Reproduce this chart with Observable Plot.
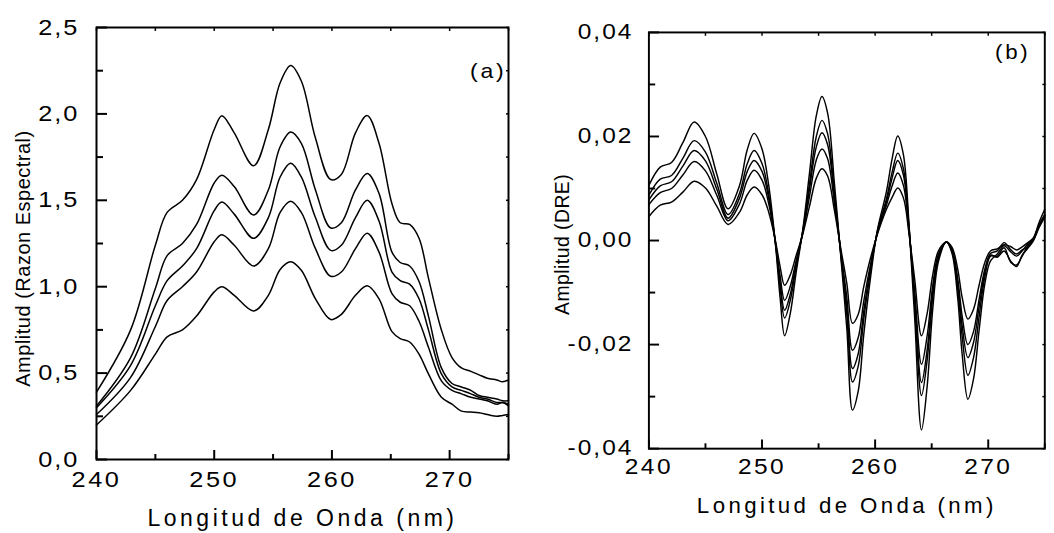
<!DOCTYPE html>
<html><head><meta charset="utf-8">
<script src="https://cdn.jsdelivr.net/npm/d3@7"></script>
<script src="https://cdn.jsdelivr.net/npm/@observablehq/plot@0.6"></script>
<style>
html,body{margin:0;padding:0;background:#fff;overflow:hidden;}
#wrap{position:relative;width:1054px;height:533px;overflow:hidden;background:#fff;}
#left{position:absolute;left:0;top:0;}
#right{position:absolute;left:540px;top:0;}
</style>
</head><body><div id="wrap"><div id="left"></div><div id="right"></div></div>
<script>
// ---------- Panel (a): Amplitud (Razon Espectral) ----------
const leftX = [240, 242.9, 245, 246, 247.3, 248.5, 250, 250.65, 251.7, 253.35, 254.6, 255.6, 256.5, 257.4, 258.6, 259.9, 260.8, 262, 263, 264, 265.1, 265.8, 266.6, 267.4, 268.2, 269.3, 270.2, 271, 271.8, 272.5, 273.2, 274, 274.5, 275];
const leftS1 = [0.39, 0.75, 1.24, 1.43, 1.50, 1.62, 1.91, 1.99, 1.89, 1.70, 1.91, 2.18, 2.28, 2.19, 1.86, 1.62, 1.65, 1.89, 1.99, 1.83, 1.48, 1.37, 1.36, 1.28, 1.05, 0.75, 0.59, 0.53, 0.51, 0.49, 0.47, 0.46, 0.45, 0.46];
const leftS2 = [0.31, 0.59, 0.99, 1.18, 1.25, 1.36, 1.60, 1.645, 1.58, 1.415, 1.56, 1.81, 1.895, 1.83, 1.56, 1.34, 1.37, 1.56, 1.655, 1.54, 1.20, 1.14, 1.12, 1.03, 0.83, 0.53, 0.44, 0.42, 0.40, 0.37, 0.36, 0.35, 0.34, 0.34];
const leftS3 = [0.30, 0.545, 0.89, 1.035, 1.12, 1.22, 1.44, 1.49, 1.42, 1.28, 1.40, 1.635, 1.715, 1.635, 1.40, 1.21, 1.24, 1.40, 1.50, 1.38, 1.085, 1.035, 1.015, 0.93, 0.75, 0.495, 0.42, 0.40, 0.38, 0.36, 0.35, 0.33, 0.33, 0.32];
const leftS4 = [0.26, 0.475, 0.77, 0.92, 1.00, 1.085, 1.26, 1.30, 1.24, 1.12, 1.22, 1.43, 1.495, 1.43, 1.22, 1.06, 1.085, 1.22, 1.31, 1.20, 0.96, 0.91, 0.89, 0.80, 0.65, 0.455, 0.40, 0.38, 0.36, 0.35, 0.34, 0.32, 0.33, 0.31];
const leftS5 = [0.20, 0.40, 0.61, 0.71, 0.75, 0.83, 0.97, 1.00, 0.95, 0.86, 0.95, 1.10, 1.145, 1.095, 0.93, 0.81, 0.84, 0.95, 1.005, 0.93, 0.74, 0.70, 0.68, 0.61, 0.495, 0.36, 0.32, 0.28, 0.275, 0.27, 0.26, 0.25, 0.255, 0.26];

// ---------- Panel (b): Amplitud (DRE) ----------
const rightX = [240, 241, 242, 243, 244, 245, 246, 247, 248, 248.7, 249.3, 250, 250.6, 251.2, 251.6, 252, 252.5, 253, 253.6, 254.2, 254.8, 255.3, 255.8, 256.4, 257, 257.5, 258, 258.5, 259, 259.6, 260.2, 261, 261.5, 262, 262.5, 263, 263.5, 264.1, 264.6, 265.1, 265.6, 266.3, 266.8, 267.3, 267.7, 268.2, 268.7, 269.2, 269.7, 270.2, 270.8, 271.4, 272, 272.5, 273, 273.5, 274, 274.5, 275];
const rightS1 = [0.0106, 0.0141, 0.0150, 0.0188, 0.0228, 0.0200, 0.0128, 0.0061, 0.0105, 0.0175, 0.0206, 0.0176, 0.0105, -0.0010, -0.0110, -0.0183, -0.0140, -0.0064, 0.0020, 0.0130, 0.0240, 0.0277, 0.0245, 0.0110, -0.0040, -0.0170, -0.0326, -0.0290, -0.0180, -0.0070, 0.0020, 0.0094, 0.0157, 0.0201, 0.0165, 0.0030, -0.0150, -0.0364, -0.0280, -0.0130, -0.0040, -0.0003, -0.0025, -0.0110, -0.0220, -0.0305, -0.0266, -0.0171, -0.0083, -0.0039, -0.0026, -0.0010, -0.0022, -0.0030, -0.0020, -0.0006, 0.0005, 0.0035, 0.0060];
const rightS2 = [0.0087, 0.0118, 0.0125, 0.0158, 0.0192, 0.0170, 0.0110, 0.0050, 0.0090, 0.0148, 0.0173, 0.0148, 0.0088, -0.0008, -0.0090, -0.0149, -0.0115, -0.0052, 0.0018, 0.0110, 0.0200, 0.0231, 0.0205, 0.0092, -0.0034, -0.0142, -0.0272, -0.0242, -0.0150, -0.0058, 0.0018, 0.0080, 0.0131, 0.0168, 0.0138, 0.0025, -0.0124, -0.0298, -0.0230, -0.0107, -0.0033, -0.0003, -0.0021, -0.0092, -0.0185, -0.0259, -0.0225, -0.0145, -0.0070, -0.0030, -0.0030, -0.0014, -0.0042, -0.0047, -0.0030, -0.0010, 0.0003, 0.0030, 0.0050];
const rightS3 = [0.0078, 0.0105, 0.0113, 0.0143, 0.0173, 0.0153, 0.0099, 0.0043, 0.0081, 0.0133, 0.0154, 0.0133, 0.0080, -0.0006, -0.0080, -0.0134, -0.0103, -0.0046, 0.0016, 0.0099, 0.0180, 0.0207, 0.0184, 0.0083, -0.0030, -0.0128, -0.0246, -0.0218, -0.0135, -0.0052, 0.0016, 0.0074, 0.0120, 0.0154, 0.0126, 0.0022, -0.0113, -0.0273, -0.0210, -0.0098, -0.0030, -0.0003, -0.0019, -0.0083, -0.0165, -0.0225, -0.0196, -0.0126, -0.0062, -0.0028, -0.0032, -0.0020, -0.0040, -0.0050, -0.0028, -0.0015, 0.0000, 0.0025, 0.0045];
const rightS4 = [0.0069, 0.0092, 0.0100, 0.0126, 0.0152, 0.0134, 0.0087, 0.0038, 0.0070, 0.0116, 0.0135, 0.0116, 0.0070, -0.0005, -0.0068, -0.0115, -0.0088, -0.0040, 0.0014, 0.0085, 0.0155, 0.0176, 0.0157, 0.0072, -0.0027, -0.0110, -0.0211, -0.0187, -0.0116, -0.0045, 0.0014, 0.0068, 0.0105, 0.0130, 0.0106, 0.0018, -0.0098, -0.0238, -0.0183, -0.0085, -0.0026, -0.0003, -0.0017, -0.0073, -0.0146, -0.0200, -0.0175, -0.0112, -0.0055, -0.0025, -0.0020, -0.0004, -0.0018, -0.0026, -0.0018, -0.0012, 0.0002, 0.0028, 0.0048];
const rightS5 = [0.0046, 0.0068, 0.0074, 0.0093, 0.0114, 0.0101, 0.0066, 0.0031, 0.0054, 0.0088, 0.0103, 0.0088, 0.0054, -0.0002, -0.0050, -0.0086, -0.0066, -0.0030, 0.0012, 0.0066, 0.0120, 0.0138, 0.0124, 0.0058, -0.0020, -0.0083, -0.0159, -0.0142, -0.0088, -0.0033, 0.0012, 0.0060, 0.0083, 0.0101, 0.0082, 0.0012, -0.0075, -0.0183, -0.0140, -0.0065, -0.0020, -0.0003, -0.0013, -0.0055, -0.0110, -0.0151, -0.0132, -0.0085, -0.0042, -0.0020, -0.0016, -0.0008, -0.0012, -0.0018, -0.0012, -0.0004, 0.0005, 0.0030, 0.0050];

// ---------- ticks and labels ----------
const xMajor = [240, 250, 260, 270];
const xMajorLabels = ["240", "250", "260", "270"];
const xMinor = [245, 255, 265, 275];
const yMajorA = [0, 0.5, 1, 1.5, 2, 2.5];
const yMajorALabels = ["0,0", "0,5", "1,0", "1,5", "2,0", "2,5"];
const yMinorA = [0.25, 0.75, 1.25, 1.75, 2.25];
const yMajorB = [-0.04, -0.02, 0, 0.02, 0.04];
const yMajorBLabels = ["-0,04", "-0,02", "0,00", "0,02", "0,04"];
const yMinorB = [-0.03, -0.01, 0.01, 0.03];

const xTitle = "Longitud de Onda (nm)";
const yTitleA = "Amplitud (Razon Espectral)";
const yTitleB = "Amplitud (DRE)";

function tidy(xs, series) {
  return series.flatMap((ys, s) => xs.map((x, i) => ({x, y: ys[i], s})));
}
const leftData = tidy(leftX, [leftS1, leftS2, leftS3, leftS4, leftS5]);
const rightData = tidy(rightX, [rightS1, rightS2, rightS3, rightS4, rightS5]);

const style = {fontFamily: "'Liberation Sans', Arial, sans-serif", fontSize: "20px", color: "#000", background: "#fff", overflow: "visible"};
const lab = (vals, labels) => d => labels[vals.indexOf(d)];

function panel({data, yDomain, yMajor, yLabels, yMinor, width, marginLeft, marginRight, marginTop, marginBottom, xPad, yPad, yTitle, yTitleDx, yTitleDy, tag, tagDx, tagDy, xTitleDy}) {
  return Plot.plot({
    width, height: 533, marginLeft, marginRight, marginTop, marginBottom,
    x: {domain: [240, 275]},
    y: {domain: yDomain},
    style,
    marks: [
      Plot.line(data, {x: "x", y: "y", z: "s", stroke: "#000", strokeWidth: 1.5, curve: "catmull-rom"}),
      Plot.frame({stroke: "#000", strokeWidth: 2}),
      // inward ticks
      Plot.axisX({ticks: xMajor, anchor: "bottom", tickSize: -9, strokeWidth: 2, fill: "none", label: null}),
      Plot.axisX({ticks: xMinor, anchor: "bottom", tickSize: -5, strokeWidth: 2, fill: "none", label: null}),
      Plot.axisX({ticks: xMajor.concat(xMinor), anchor: "top", tickSize: -3, strokeWidth: 1.5, fill: "none", label: null}),
      Plot.axisY({ticks: yMajor, anchor: "left", tickSize: -11, strokeWidth: 2, fill: "none", label: null}),
      Plot.axisY({ticks: yMinor, anchor: "left", tickSize: -7, strokeWidth: 2, fill: "none", label: null}),
      Plot.axisY({ticks: yMajor.concat(yMinor), anchor: "right", tickSize: -3, strokeWidth: 1.5, fill: "none", label: null}),
      // tick labels
      Plot.axisX({ticks: xMajor, anchor: "bottom", tickSize: 0, tickPadding: xPad, tickFormat: lab(xMajor, xMajorLabels), fontSize: 22, label: null}),
      Plot.axisY({ticks: yMajor, anchor: "left", tickSize: 0, tickPadding: yPad, tickFormat: lab(yMajor, yLabels), fontSize: 22, label: null}),
      // titles
      Plot.text([xTitle], {text: d => d, frameAnchor: "bottom", dy: xTitleDy, textAnchor: "middle", lineAnchor: "middle", fontSize: 23}),
      Plot.text([yTitle], {text: d => d, frameAnchor: "left", rotate: -90, dx: yTitleDx, dy: yTitleDy, textAnchor: "middle", lineAnchor: "middle", fontSize: 20}),
      Plot.text([tag], {text: d => d, frameAnchor: "top-right", dx: tagDx, dy: tagDy, textAnchor: "end", lineAnchor: "middle", fontSize: 20})
    ]
  });
}

// the original lettering is a wide face: stretch tick labels and tags horizontally
function widen(t, k) {
  const tr = t.getAttribute("transform");
  if (tr) t.setAttribute("transform", tr + ` scale(${k},1)`);
  else {
    const x = +t.getAttribute("x") || 0, y = +t.getAttribute("y") || 0;
    t.removeAttribute("x"); t.removeAttribute("y");
    t.setAttribute("transform", `translate(${x},${y}) scale(${k},1)`);
  }
}
function spacing(svg) {
  svg.querySelectorAll("text").forEach(t => {
    const s = t.textContent;
    if (t.closest('g[aria-label="x-axis tick label"]')) { t.style.letterSpacing = "2.2px"; widen(t, 1.15); }
    else if (t.closest('g[aria-label="y-axis tick label"]')) { t.style.letterSpacing = "1.8px"; widen(t, 1.15); }
    else if (s.startsWith("Longitud")) { t.style.letterSpacing = "3.5px"; }
    else if (s.startsWith("Amplitud")) { t.style.letterSpacing = "0.5px"; }
    else if (s.startsWith("(")) { t.style.letterSpacing = "2.4px"; widen(t, 1.15); }
  });
}

const left = panel({
  data: leftData, yDomain: [0, 2.5], yMajor: yMajorA, yLabels: yMajorALabels, yMinor: yMinorA,
  width: 520, marginLeft: 96, marginRight: 12, marginTop: 27, marginBottom: 74, xPad: 12, yPad: 17,
  yTitle: yTitleA, yTitleDx: -73, yTitleDy: 15, tag: "(a)", tagDx: -2, tagDy: 44.5, xTitleDy: 59.5
});
const right = panel({
  data: rightData, yDomain: [-0.04, 0.04], yMajor: yMajorB, yLabels: yMajorBLabels, yMinor: yMinorB,
  width: 531, marginLeft: 112, marginRight: 10, marginTop: 33, marginBottom: 70, xPad: 11, yPad: 16,
  yTitle: yTitleB, yTitleDx: -89, yTitleDy: 4, tag: "(b)", tagDx: -15, tagDy: 21.5, xTitleDy: 59
});
spacing(left); spacing(right);
document.getElementById("left").appendChild(left);
document.getElementById("right").appendChild(right);
</script></body></html>
